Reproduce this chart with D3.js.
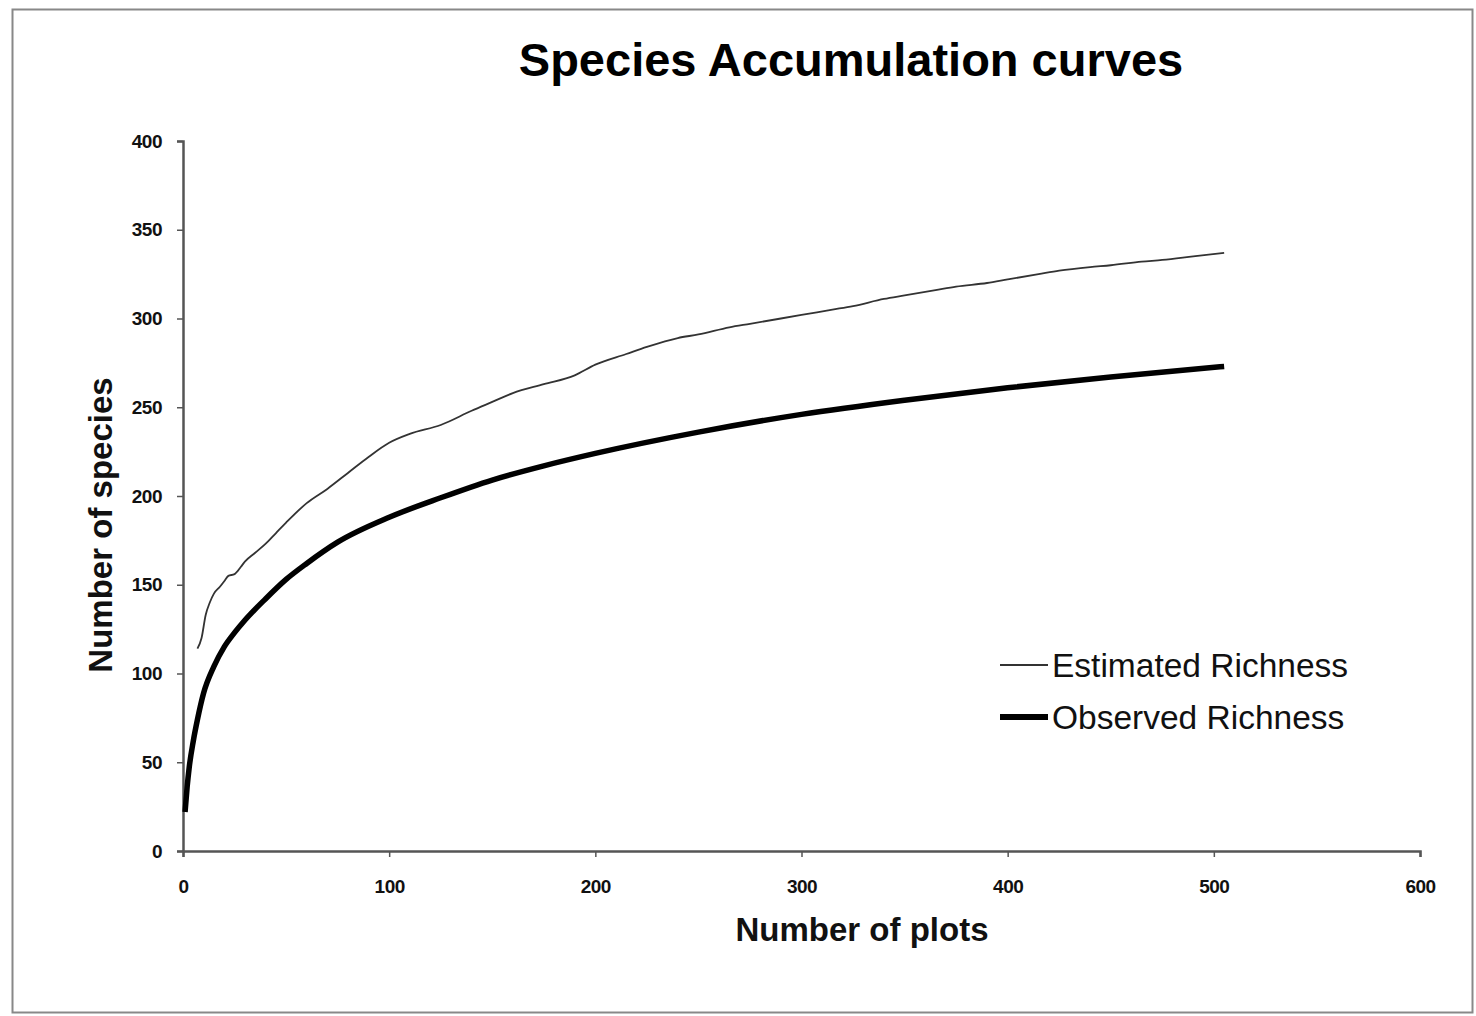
<!DOCTYPE html>
<html><head><meta charset="utf-8">
<script src="https://cdn.jsdelivr.net/npm/d3@7"></script>
<style>body{margin:0;background:#fff}svg{display:block}text{font-family:"Liberation Sans",Arial,sans-serif}</style>
</head><body>
<svg id="c" width="1476" height="1016"></svg>
<script>
const title = "Species Accumulation curves";
const xTitle = "Number of plots";
const yTitle = "Number of species";
const xTicks = [0,100,200,300,400,500,600];
const yTicks = [0,50,100,150,200,250,300,350,400];
const seriesNames = ["Estimated Richness","Observed Richness"];
const estPlots = [7,9,11,13,15,18,20,22,25,28,30,35,40,45,50,60,70,80,90,100,110,125,140,150,160,175,190,200,215,225,240,250,265,275,290,300,315,325,340,350,365,375,390,400,415,425,440,450,465,475,490,505];
const estValues = [114,120,133,140,145,149,152,155,156,160,163,168,173,179,185,196,204,213,222,230,235,240,248,253,258,263,268,274,280,284,289,291,295,297,300,302,305,307,311,313,316,318,320,322,325,327,329,330,332,333,335,337];
const obsPlots = [1,2,3,5,7,10,15,20,25,30,40,50,60,75,100,125,150,175,200,250,300,350,400,450,505];
const obsValues = [22,36,47,62,74,89,104,115,123,130,142,153,162,174,188,199,209,217,224,236,246,254,261,267,273];

const svg = d3.select("#c");
svg.append("rect").attr("x",12.5).attr("y",9.5).attr("width",1460).attr("height",1003)
  .attr("fill","none").attr("stroke","#888").attr("stroke-width",2);

const x = d3.scaleLinear().domain([0,600]).range([183,1420]);
const y = d3.scaleLinear().domain([0,400]).range([851,141]);

const xAxis = svg.append("g").attr("transform","translate(0,851)")
  .call(d3.axisBottom(x).tickValues(xTicks).tickSize(6).tickPadding(30));
const yAxis = svg.append("g").attr("transform","translate(183,0)")
  .call(d3.axisLeft(y).tickValues(yTicks).tickSize(6).tickPadding(15));
[xAxis,yAxis].forEach(g=>{
  g.select(".domain").attr("stroke","#555").attr("stroke-width",2.5);
  g.selectAll(".tick line").attr("stroke","#555").attr("stroke-width",1.5);
  g.selectAll(".tick text").attr("fill","#111").attr("font-size",19).attr("font-weight","bold")
   .attr("letter-spacing","-0.5").attr("font-family","Liberation Sans, Arial, sans-serif");
});
xAxis.selectAll(".tick text").attr("dy","0.3em");

const line = d3.line().x(d=>x(d[0])).y(d=>y(d[1])).curve(d3.curveMonotoneX);
const est = estPlots.map((p,i)=>[p,estValues[i]]);
const obs = obsPlots.map((p,i)=>[p,obsValues[i]]);
svg.append("path").datum(est).attr("d",line).attr("fill","none").attr("stroke","#333").attr("stroke-width",1.8);
svg.append("path").datum(obs).attr("d",line).attr("fill","none").attr("stroke","#000").attr("stroke-width",5.5);

svg.append("text").attr("x",851).attr("y",76).attr("text-anchor","middle")
  .attr("font-size",47).attr("font-weight","bold").attr("fill","#000").text(title);
svg.append("text").attr("x",862).attr("y",941).attr("text-anchor","middle")
  .attr("font-size",33).attr("font-weight","bold").attr("fill","#111").text(xTitle);
svg.append("text").attr("transform","translate(112,525) rotate(-90)").attr("text-anchor","middle")
  .attr("font-size",33).attr("font-weight","bold").attr("fill","#111").text(yTitle);

const leg = svg.append("g");
const ly = [665,717], lw = [1.8,6];
seriesNames.forEach((n,i)=>{
  leg.append("line").attr("x1",1000).attr("x2",1048).attr("y1",ly[i]).attr("y2",ly[i])
    .attr("stroke", i?"#000":"#333").attr("stroke-width",lw[i]);
  leg.append("text").attr("x",1052).attr("y",ly[i]+12).attr("font-size",33.5)
    .attr("fill","#111").text(n);
});
</script>
</body></html>
